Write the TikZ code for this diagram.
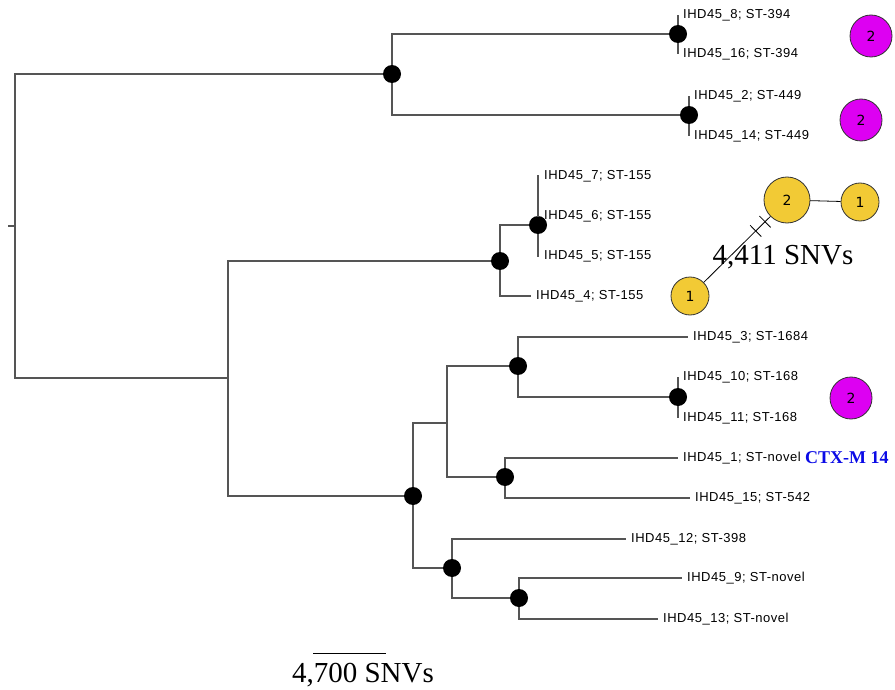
\documentclass[tikz,border=0pt]{standalone}
\usepackage{fontspec}
\setmainfont{Liberation Serif}
\newfontfamily\leaffont[LetterSpace=4]{Liberation Sans}
\newfontfamily\numfont{DejaVu Sans}
\usetikzlibrary{calc}
\definecolor{treegray}{HTML}{555555}
\definecolor{hapyellow}{HTML}{F2CA35}
\definecolor{hapmagenta}{HTML}{DD00F2}
\definecolor{ctxblue}{HTML}{0A0AE6}
\tikzset{
  branch/.style={draw=treegray, line width=1.1pt},
  dot/.style={circle, fill=black, minimum size=18pt, inner sep=0pt},
  leaf/.style={anchor=west, inner xsep=5pt, inner ysep=0pt, font=\leaffont\fontsize{13}{13}\selectfont},
  hap/.style={circle, draw=black!80, line width=0.8pt, inner sep=0pt, font=\numfont\fontsize{14}{14}\selectfont},
  snvlabel/.style={inner sep=0pt, font=\fontsize{29}{29}\selectfont},
  snvtick/.style={sloped, draw, line width=0.8pt, rectangle, minimum width=0pt, minimum height=16pt, inner sep=0pt},
}

\begin{document}
\begin{tikzpicture}[x=1pt, y=-1pt]
  \useasboundingbox (0,0) rectangle (895,690);
  \coordinate (r0) at (8,226);
  \coordinate (r) at (15,226);
  \coordinate (n2) at (228,378);
  \coordinate (n8) at (447,423);
  \foreach \n/\x/\y in {n1/392/74, n5/678/34, n6/689/115, n3/500/261, n7/538/225,
      n4/413/496, n9/518/366, n10/678/397, n11/505/477, n12/452/568, n13/519/598}
    \node[dot] (\n) at (\x,\y) {};
  \foreach \n/\x/\y/\t in {l8/678/15/{IHD45\_8; ST-394}, l16/678/54/{IHD45\_16; ST-394},
      l2/689/96/{IHD45\_2; ST-449}, l14/689/136/{IHD45\_14; ST-449},
      l7/539/176/{IHD45\_7; ST-155}, l6/539/216/{IHD45\_6; ST-155},
      l5/539/256/{IHD45\_5; ST-155}, l4/531/296/{IHD45\_4; ST-155},
      l3/688/337/{IHD45\_3; ST-1684}, l10/678/377/{IHD45\_10; ST-168},
      l11/678/418/{IHD45\_11; ST-168}, l1/678/458/{IHD45\_1; ST-novel},
      l15/690/498/{IHD45\_15; ST-542}, l12/626/539/{IHD45\_12; ST-398},
      l9/682/578/{IHD45\_9; ST-novel}, l13/658/619/{IHD45\_13; ST-novel}}
    \node[leaf] (\n) at (\x,\y) {\t};
  \draw[branch] (r0) -- (r);
  \foreach \a/\b in {r/n1, r/n2, n1/n5, n1/n6, n2/n3, n2/n4, n3/n7, n4/n8, n4/n12,
      n8/n9, n8/n11, n9/n10, n12/n13}
    \draw[branch] (\a) |- (\b);
  \foreach \a/\b in {n5/l8, n5/l16, n6/l2, n6/l14, n7/l7, n7/l6, n7/l5, n3/l4, n9/l3,
      n10/l10, n10/l11, n11/l1, n11/l15, n12/l12, n13/l9, n13/l13}
    \draw[branch] (\a) |- (\b.west);
  \node[anchor=west, inner sep=0pt, text=ctxblue, font=\bfseries\fontsize{18}{18}\selectfont] (ctx) at (805,458) {CTX-M 14};
  \foreach \n/\x/\y in {m1/871/36, m2/861/120, m3/851/398}
    \node[hap, fill=hapmagenta, minimum size=42pt] (\n) at (\x,\y) {2};
  \node[hap, fill=hapyellow, minimum size=46pt] (y2) at (787,200) {2};
  \node[hap, fill=hapyellow, minimum size=38pt] (y1a) at (860,202) {1};
  \node[hap, fill=hapyellow, minimum size=38pt] (y1b) at (690,296) {1};
  \draw[line width=0.8pt] (y2) -- (y1a);
  \draw[line width=0.8pt] (y1b) -- node[snvtick, pos=0.78] {} node[snvtick, pos=0.92] {} (y2);
  \node[snvlabel] (snv1) at (783,257) {4,411 SNVs};
  \coordinate (sb1) at (313,653);
  \coordinate (sb2) at (386,653);
  \draw[line width=0.8pt] (sb1) -- (sb2);
  \node[snvlabel] (snv2) at (363,675) {4,700 SNVs};
\end{tikzpicture}
\end{document}
